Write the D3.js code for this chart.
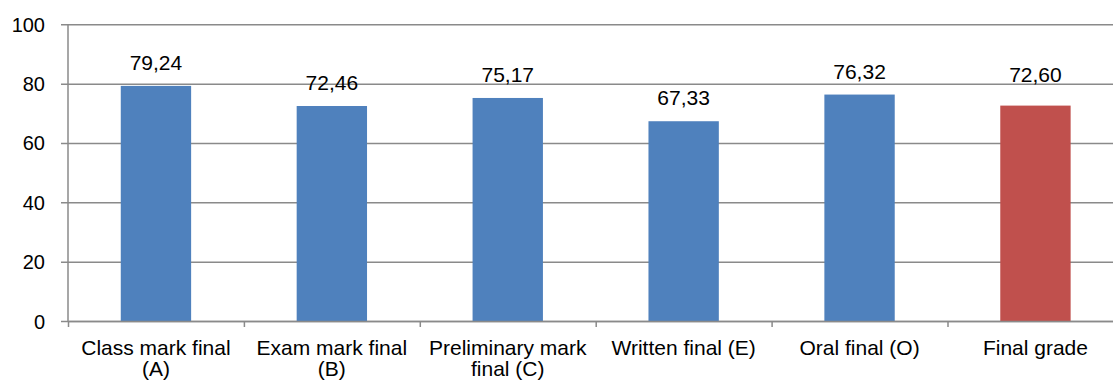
<!DOCTYPE html>
<html>
<head>
<meta charset="utf-8">
<script src="https://cdn.jsdelivr.net/npm/d3@7"></script>
<style>
  body { margin: 0; background: #fff; }
  text { font-family: "Liberation Sans", Arial, sans-serif; fill: #000; }
</style>
</head>
<body>
<svg id="chart" width="1113" height="382"></svg>
<script>
// data
const categories = ["Class mark final (A)", "Exam mark final (B)", "Preliminary mark final (C)",
    "Written final (E)", "Oral final (O)", "Final grade"];
const values = [79.24, 72.46, 75.17, 67.33, 76.32, 72.60];
const barColors = ["#4F81BD", "#4F81BD", "#4F81BD", "#4F81BD", "#4F81BD", "#C0504D"];
const yTicks = [0, 20, 40, 60, 80, 100];

const svg = d3.select("#chart");
const plotLeft = 68, plotTop = 24.3, plotBottom = 321, step = 175.9;
const plotRight = plotLeft + step * categories.length; // runs past the right edge, like the original

let yscale = d3.scaleLinear().domain([0, 100]).range([plotBottom, plotTop]);
let xscale = d3.scaleBand().domain(categories).range([plotLeft, plotRight])
    .paddingInner(0.6).paddingOuter(0.3);
let xedge = d3.scaleLinear().domain([0, categories.length]).range([plotLeft, plotRight]);

const gridColor = "#8a8a8a";

// horizontal gridlines + y labels
const gy = svg.append("g").attr("transform", `translate(${plotLeft},0)`);
gy.call(d3.axisLeft(yscale).tickValues(yTicks).tickSize(-(plotRight - plotLeft)).tickSizeOuter(0)
    .tickFormat(d3.format("d")));
gy.select(".domain").remove();
gy.selectAll(".tick line").attr("stroke", gridColor).attr("stroke-width", 1.5).attr("x1", -7);
gy.selectAll(".tick text").attr("x", -23).attr("dy", "0.35em")
    .style("font-size", "20px").style("font-family", "Liberation Sans, Arial, sans-serif");

// bars
svg.append("g").selectAll("rect")
    .data(values)
    .enter()
    .append("rect")
    .attr("x", (d, i) => xscale(categories[i]))
    .attr("y", d => yscale(d))
    .attr("width", xscale.bandwidth())
    .attr("height", d => yscale(0) - yscale(d))
    .attr("fill", (d, i) => barColors[i]);

// value labels (the last one sits a bit higher in the original)
svg.append("g").selectAll("text")
    .data(values)
    .enter()
    .append("text")
    .attr("x", (d, i) => xscale(categories[i]) + xscale.bandwidth() / 2)
    .attr("y", (d, i) => yscale(d) - (i === values.length - 1 ? 24 : 16))
    .attr("text-anchor", "middle")
    .style("font-size", "21px")
    .text(d => d3.format(".2f")(d).replace(".", ","));

// y axis line
svg.append("line")
    .attr("x1", plotLeft).attr("x2", plotLeft).attr("y1", plotTop).attr("y2", plotBottom)
    .attr("stroke", gridColor).attr("stroke-width", 1.5);

// x axis with ticks between categories
const gx = svg.append("g").attr("transform", `translate(0,${plotBottom})`);
gx.call(d3.axisBottom(xedge).tickValues(d3.range(categories.length + 1)).tickSize(6)
    .tickSizeOuter(0).tickFormat(""));
gx.select(".domain").attr("stroke", gridColor).attr("stroke-width", 1.5);
gx.selectAll(".tick line").attr("stroke", gridColor).attr("stroke-width", 1.5);

// category labels, wrapped
const labels = svg.append("g").selectAll("text")
    .data(categories)
    .enter()
    .append("text")
    .attr("x", d => xscale(d) + xscale.bandwidth() / 2)
    .attr("y", 355)
    .attr("text-anchor", "middle")
    .style("font-size", "21px");

labels.each(function (d) {
    const t = d3.select(this);
    const cx = +t.attr("x");
    const words = d.split(" ");
    let lines = [], cur = [];
    words.forEach(w => {
        t.text(cur.concat(w).join(" "));
        if (cur.length && this.getComputedTextLength() > 170) {
            lines.push(cur.join(" "));
            cur = [w];
        } else {
            cur.push(w);
        }
    });
    lines.push(cur.join(" "));
    t.text(null);
    lines.forEach((l, k) => {
        t.append("tspan").attr("x", cx).attr("dy", k ? 21 : 0).text(l);
    });
});
</script>
</body>
</html>
